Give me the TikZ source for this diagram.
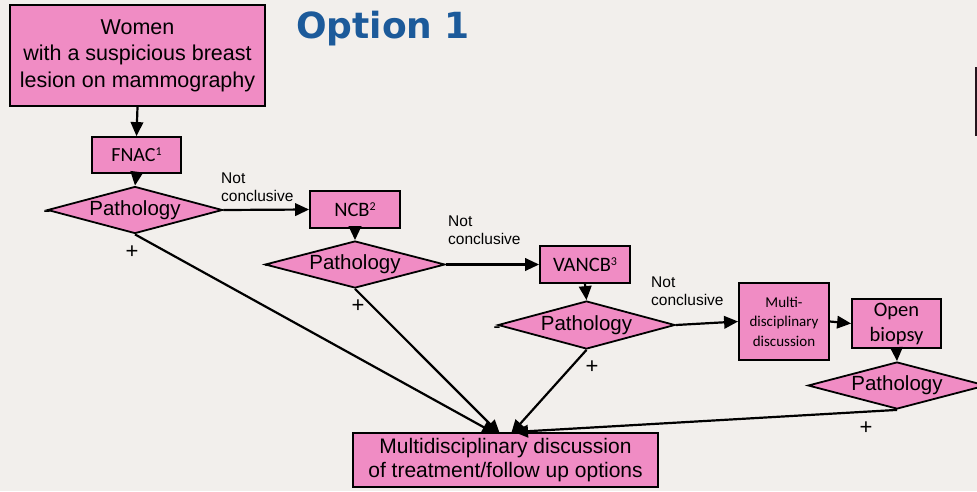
\documentclass[tikz,border=0pt]{standalone}
\usepackage{fontspec}
\setmainfont{Liberation Sans}
\newfontfamily\calib{Carlito}
\newfontfamily\titlef{DejaVu Sans}
\usetikzlibrary{shapes.geometric,arrows.meta}
\definecolor{bgcol}{HTML}{F2EFEC}
\definecolor{pinkfill}{HTML}{F08CC4}
\definecolor{titleblue}{HTML}{1C5A9A}
\newcommand{\supnum}[1]{\raisebox{0.32em}{\fontsize{12}{12}\selectfont #1}}
\tikzset{
  box/.style={draw, fill=pinkfill, line width=1.8pt, inner sep=0pt, align=center},
  decision/.style={diamond, draw, fill=pinkfill, line width=1.8pt, inner sep=0pt,
    font=\fontsize{20.5}{24}\selectfont},
  flow/.style={line width=2.2pt, -{Triangle[length=14pt,width=12.5pt]}},
  sign/.style={inner sep=0pt, font=\fontsize{22}{24}\selectfont},
  note/.style={inner sep=0pt, align=left, anchor=north west, font=\fontsize{15.5}{18}\selectfont},
}
\begin{document}
\begin{tikzpicture}[x=1pt,y=-1pt]
\useasboundingbox (0,0) rectangle (977,491);
\fill[bgcol] (0,0) rectangle (977,491);

% heading
\node[anchor=base, inner sep=0pt, text=titleblue, font=\titlef\bfseries\fontsize{36}{40}\selectfont] (title) at (383,38) {Option 1};

% box partly outside the right edge
\draw[line width=1.8pt, draw=black!85!pinkfill] (976,68) rectangle (1000,135);

% steps
\node[box, minimum width=255pt, minimum height=101pt, font=\fontsize{21.5}{26.5}\selectfont] (women) at (137.5,55.5)
  {Women\\with a suspicious breast\\lesion on mammography};
\node[box, minimum width=89pt, minimum height=36pt, font=\calib\fontsize{20}{22}\selectfont] (fnac) at (136.5,155) {FNAC\supnum{1}};
\node[decision, minimum width=175pt, minimum height=47pt, shape aspect=3.72] (p1) at (135,210) {Pathology};

\node[box, minimum width=90pt, minimum height=37pt, font=\calib\fontsize{20.5}{22}\selectfont] (ncb) at (355,209.5) {NCB\supnum{2}};
\node[decision, minimum width=180pt, minimum height=47pt, shape aspect=3.83] (p2) at (355,264.5) {Pathology};

\node[box, minimum width=90pt, minimum height=37pt, font=\calib\fontsize{20.5}{22}\selectfont] (vancb) at (585,264.5) {VANCB\supnum{3}};
\node[decision, minimum width=177pt, minimum height=48pt, shape aspect=3.69] (p3) at (586.5,325) {Pathology};

\node[box, minimum width=90pt, minimum height=77pt, font=\calib\fontsize{15}{19.5}\selectfont] (multi) at (784,321.5)
  {Multi-\\disciplinary\\discussion};
\node[box, minimum width=89pt, minimum height=49pt, font=\calib\fontsize{20.5}{25}\selectfont] (open) at (896.5,323.5)
  {Open\\biopsy};
\node[decision, minimum width=178pt, minimum height=47pt, shape aspect=3.79] (p4) at (897,385.5) {Pathology};

\node[box, minimum width=305pt, minimum height=54pt, font=\fontsize{21}{24}\selectfont] (final) at (505.5,460)
  {Multidisciplinary discussion\\of treatment/follow up options};

% arrow ends on the top edge of the last box
\coordinate (f1) at (496,434);
\coordinate (f2) at (500,434);
\coordinate (f3) at (511,434);
\coordinate (f4) at (514,432);

% connectors
\draw[flow] (women.south) -- (fnac.north);
\draw[flow] (fnac.south) -- (p1.north);
\draw[flow] (p1.east) -- (ncb.west);
\draw[flow] (ncb.south) -- (p2.north);
\draw[flow] (p2.east) -- (vancb.west);
\draw[flow] (vancb.south) -- (p3.north);
\draw[flow] (p3.east) -- (multi.west);
\draw[flow] (multi.east) -- (open.west);
\draw[flow] (open.south) -- (p4.north);
\draw[flow] (p1.south) -- (f1);
\draw[flow] (p2.south) -- (f2);
\draw[flow] (p3.south) -- (f3);
\draw[flow] (p4.south) -- (f4);

% branch labels
\node[note] (nc1) at (221,173) {Not\\conclusive};
\node[note] (nc2) at (448,216) {Not\\conclusive};
\node[note] (nc3) at (651,277) {Not\\conclusive};

\node[sign] (m1) at (47,214) {-};
\node[sign] (a1) at (132,252) {+};
\node[sign] (m2) at (268,268) {-};
\node[sign] (a2) at (358,306) {+};
\node[sign] (m3) at (497,330) {-};
\node[sign] (a3) at (592,367) {+};
\node[sign] (a4) at (866,428) {+};
\end{tikzpicture}
\end{document}
